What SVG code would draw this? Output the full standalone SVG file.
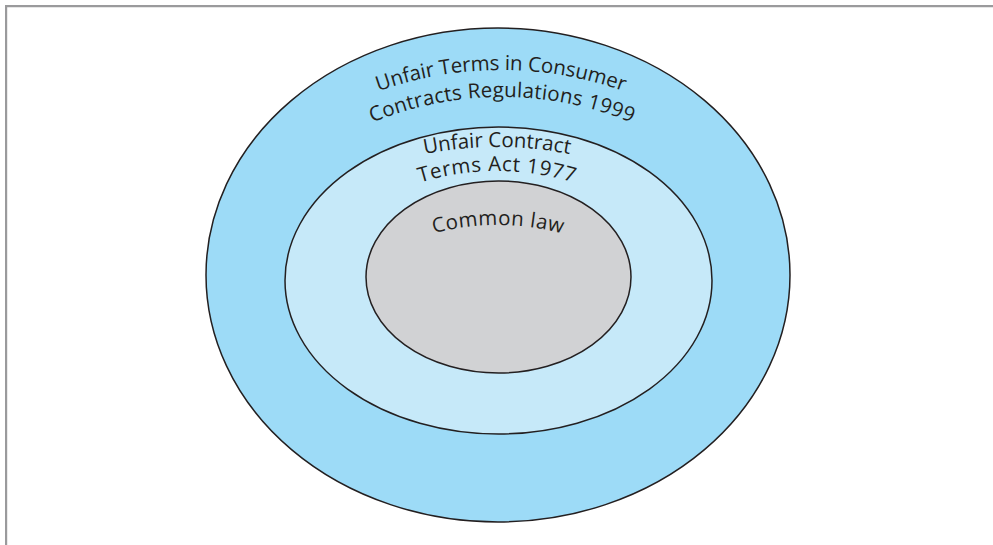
<svg xmlns="http://www.w3.org/2000/svg" width="993" height="545" viewBox="0 0 993 545">
<style>
.ring{stroke:#231f20;stroke-width:1.5}
.lbl{font-family:"Open Sans","Liberation Sans",sans-serif;font-size:20.5px;fill:#231f20}
.frame{stroke:#9a9a9c;stroke-width:2.2;fill:none}
</style>
<defs>
<path id="p1" d="M 301 129.7 A 365 365 0 0 1 701 129.7"/>
<path id="p2" d="M 302 162 A 340 340 0 0 1 702 162"/>
<path id="p3" d="M 347 178.3 A 375 375 0 0 1 647 178.3"/>
<path id="p4" d="M 397 190.9 A 261 261 0 0 1 597 190.9"/>
<path id="p5" d="M 398 245.7 A 252 252 0 0 1 598 245.7"/>
</defs>
<rect width="993" height="545" fill="#ffffff"/>
<path class="frame" d="M 6.1 545 L 6.1 6.1 L 993 6.1"/>
<g id="outer">
<ellipse class="ring" cx="498" cy="275" rx="292" ry="247" fill="#9ddbf7"/>
<text class="lbl"><textPath href="#p1" startOffset="50%" text-anchor="middle" textLength="250" lengthAdjust="spacing">Unfair Terms in Consumer</textPath></text>
<text class="lbl"><textPath href="#p2" startOffset="50%" text-anchor="middle" textLength="266" lengthAdjust="spacing">Contracts Regulations 1999</textPath></text>
</g>
<g id="middle">
<ellipse class="ring" cx="498.5" cy="280.5" rx="213.5" ry="153.5" fill="#c6e9f9"/>
<text class="lbl"><textPath href="#p3" startOffset="50%" text-anchor="middle" textLength="146" lengthAdjust="spacing">Unfair Contract</textPath></text>
<text class="lbl"><textPath href="#p4" startOffset="50%" text-anchor="middle" textLength="156" lengthAdjust="spacing">Terms Act 1977</textPath></text>
</g>
<g id="inner">
<ellipse class="ring" cx="498.5" cy="277" rx="132.5" ry="96" fill="#d1d2d4"/>
<text class="lbl"><textPath href="#p5" startOffset="50%" text-anchor="middle" textLength="130" lengthAdjust="spacing">Common law</textPath></text>
</g>
<g id="connectors"/>
</svg>
